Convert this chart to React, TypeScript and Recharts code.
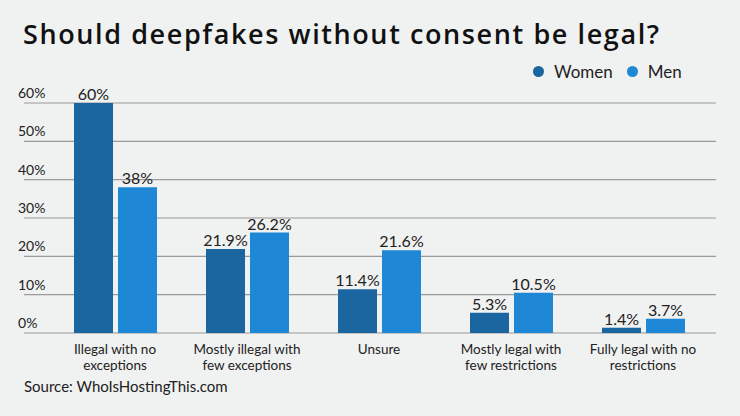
import { Bar, BarChart, CartesianGrid, LabelList, XAxis, YAxis } from "recharts";

const categories = [
  "Illegal with no|exceptions",
  "Mostly illegal with|few exceptions",
  "Unsure",
  "Mostly legal with|few restrictions",
  "Fully legal with no|restrictions",
];
const women = [60, 21.9, 11.4, 5.3, 1.4];
const men = [38, 26.2, 21.6, 10.5, 3.7];
const yTicks = [0, 10, 20, 30, 40, 50, 60];

const data = categories.map((c, i) => ({ name: c, women: women[i], men: men[i] }));

const WOMEN = "#1b65a1";
const MEN = "#1e88d6";
const FONT = "Lato, 'Noto Sans', sans-serif";

function XTick({ x, y, payload }: any) {
  const lines = String(payload.value).split("|");
  return (
    <g>
      {lines.map((l, i) => (
        <text
          key={i}
          x={x}
          y={y + 13 + i * 15.5}
          textAnchor="middle"
          fontSize={13.5}
          fill="#222"
          fontFamily={FONT}
        >
          {l}
        </text>
      ))}
    </g>
  );
}

function YTick({ y, payload }: any) {
  return (
    <text x={18} y={y - 5} textAnchor="start" fontSize={14} fill="#222" fontFamily={FONT}>
      {payload.value}%
    </text>
  );
}

function LegendBox() {
  const items = [
    { label: "Women", color: WOMEN },
    { label: "Men", color: MEN },
  ];
  return (
    <div
      style={{
        position: "absolute",
        left: 533,
        top: 61,
        display: "flex",
        gap: 14,
        fontFamily: FONT,
        fontSize: 17,
        color: "#222",
      }}
    >
      {items.map((it) => (
        <div key={it.label} style={{ display: "flex", alignItems: "center", gap: 10 }}>
          <span style={{ width: 11, height: 11, borderRadius: 6, background: it.color, display: "inline-block" }} />
          {it.label}
        </div>
      ))}
    </div>
  );
}

export default function App() {
  return (
    <div style={{ position: "absolute", left: 0, top: 0, width: 740, height: 416, background: "#f0f1f1" }}>
      <div
        style={{
          position: "absolute",
          left: 23,
          top: 16,
          fontFamily: "'Open Sans', sans-serif",
          fontWeight: 600,
          fontSize: 27,
          letterSpacing: 1.6,
          lineHeight: "36px",
          color: "#111",
          whiteSpace: "nowrap",
        }}
      >
        Should deepfakes without consent be legal?
      </div>
      <LegendBox />
      <div
        style={{
          position: "absolute",
          left: 24,
          top: 377,
          fontFamily: FONT,
          fontSize: 15,
          lineHeight: "18px",
          color: "#222",
        }}
      >
        Source: WhoIsHostingThis.com
      </div>
      <BarChart
        width={740}
        height={416}
        data={data}
        margin={{ top: 103, right: 24, bottom: 53, left: 0 }}
        barSize={39}
        barGap={5}
        style={{ position: "absolute", left: 0, top: 0 }}
      >
        <CartesianGrid vertical={false} stroke="#9a9a9a" strokeWidth={1.2} />
        <XAxis
          dataKey="name"
          height={30}
          tick={<XTick />}
          tickLine={false}
          axisLine={false}
          interval={0}
          padding={{ left: 25, right: 7 }}
        />
        <YAxis
          width={24}
          domain={[0, 60]}
          ticks={yTicks}
          tick={<YTick />}
          tickLine={false}
          axisLine={false}
        />
        <Bar dataKey="women" name="Women" fill={WOMEN} isAnimationActive={false}>
          <LabelList
            dataKey="women"
            position="top"
            offset={3}
            formatter={(v: any) => `${v}%`}
            style={{ fontSize: 16, fill: "#222", fontFamily: FONT }}
          />
        </Bar>
        <Bar dataKey="men" name="Men" fill={MEN} isAnimationActive={false}>
          <LabelList
            dataKey="men"
            position="top"
            offset={3}
            formatter={(v: any) => `${v}%`}
            style={{ fontSize: 16, fill: "#222", fontFamily: FONT }}
          />
        </Bar>
      </BarChart>
    </div>
  );
}
